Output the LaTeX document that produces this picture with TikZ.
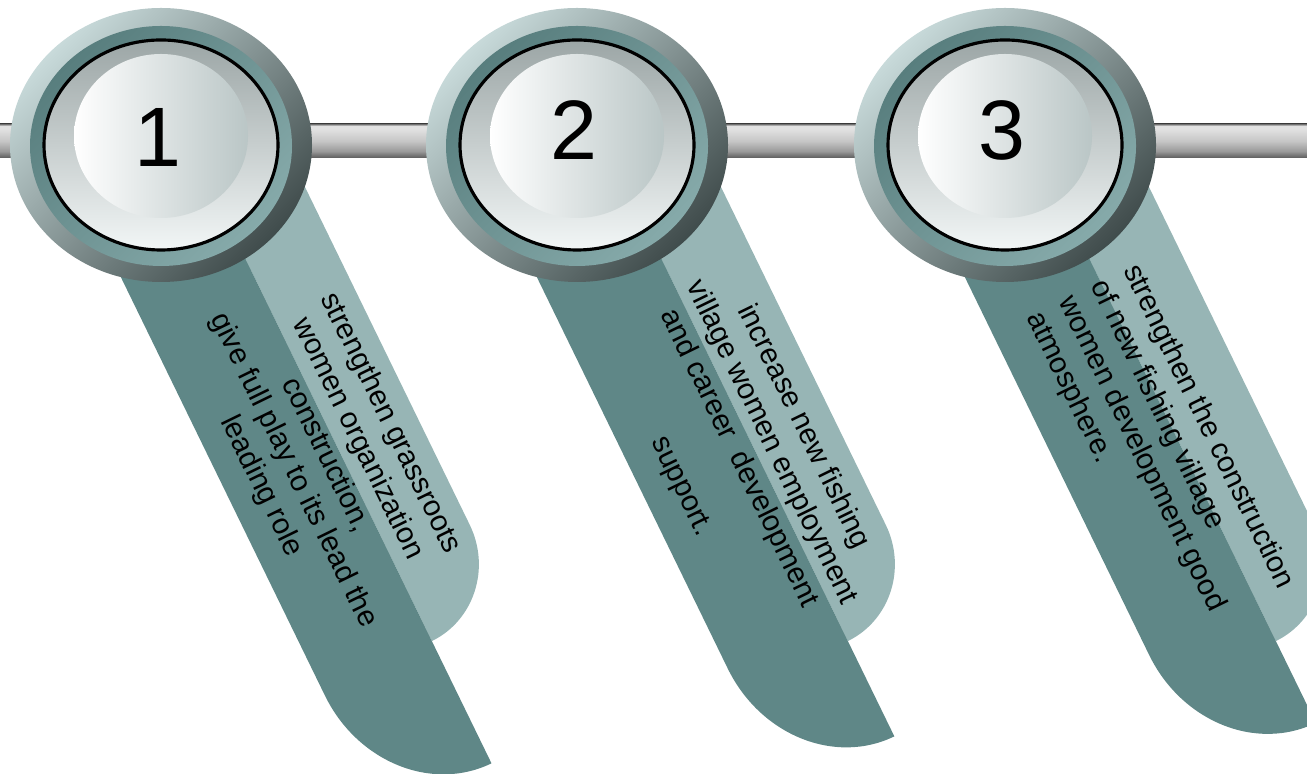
\documentclass[tikz,border=0pt]{standalone}
\usepackage{fontspec}
\setmainfont{Liberation Sans}
\usepackage{xcolor}

\definecolor{tabdark}{HTML}{5F8787}
\definecolor{tablight}{HTML}{97B5B5}
\definecolor{rimlight}{HTML}{C8DADA}
\definecolor{rimdark}{HTML}{404C4C}
\definecolor{banddark}{HTML}{587E7E}
\definecolor{bandlight}{HTML}{86AAAA}
\definecolor{facetop}{HTML}{9CA6A6}
\definecolor{facebot}{HTML}{F2F6F6}
\definecolor{glowright}{HTML}{BAC6C6}
\definecolor{barA}{HTML}{5C5C5C}
\definecolor{barB}{HTML}{9A9A9A}
\definecolor{barC}{HTML}{C6C6C6}
\definecolor{barD}{HTML}{E2E2E2}
\definecolor{barE}{HTML}{707070}

\pgfdeclareverticalshading{barshade}{100bp}{color(0bp)=(barA); color(25bp)=(barA);
  color(35bp)=(barB); color(50bp)=(barC); color(68bp)=(barD); color(72bp)=(barD);
  color(75bp)=(barE); color(100bp)=(barE)}

\begin{document}
\begin{tikzpicture}[x=0.1mm, y=0.1mm,
    tabtext/.style={font=\fontsize{8.4}{10.2}\selectfont, text=black, rotate=-64, inner sep=0pt},
    digit/.style={font=\fontsize{24}{28}\selectfont, text=black}]
  \clip (0,0) rectangle (1307,-774);
  % Bar behind the rings
  \shade[shading=barshade] (0,-124) rectangle (1307,-158);
  % Rings with their hanging tabs
  \foreach \cx/\num/\len/\dy in {161/1/560/8, 577/2/530/15, 1005/3/515/15}{
    \begin{scope}[shift={(\cx,-145)}]
      % Tab, folded: light back half, dark front half
      \begin{scope}[shift={(85,-115)}, rotate=-64]
        \fill[tablight] (-150,0) -- (-150,85) -- (336,85)
          arc[start angle=90, end angle=0, x radius=88, y radius=85] -- cycle;
        \fill[tabdark] (-150,0) -- (\len,0)
          arc[start angle=0, end angle=-90, x radius=134, y radius=120]
          -- (-150,-120) -- cycle;
      \end{scope}
      % Rim and inner band
      \shade[top color=rimlight, bottom color=rimdark, shading angle=45]
        (0,0) ellipse [x radius=151, y radius=137];
      \shade[top color=banddark, bottom color=bandlight, shading angle=45]
        (0,-1) ellipse [x radius=131, y radius=120];
      % Face
      \shade[top color=facetop, bottom color=facebot, draw=black, line width=0.9pt]
        (0,0) ellipse [x radius=117, y radius=105];
      \shade[left color=white, right color=glowright]
        (0,9) ellipse [x radius=87, y radius=82];
      \node[digit] (n\num) at (-3,\dy) {\num};
    \end{scope}
  }
  % Tab texts
  \begin{scope}[shift={(246,-260)}, rotate=-64]
    \node[tabtext, align=center] (t1) at (210,-14)
      {strengthen grassroots\\ women organization\\ construction,\\
       give full play to its lead the\\ leading role};
  \end{scope}
  \begin{scope}[shift={(662,-260)}, rotate=-64]
    \node[tabtext, align=center] (t2) at (212,-14)
      {increase new fishing\\ village women employment\\
       and career\ \ development\\[8pt] support.};
  \end{scope}
  \begin{scope}[shift={(1090,-260)}, rotate=-64]
    \node[tabtext, align=left, anchor=west] (t3) at (23,-21)
      {strengthen the construction\\ of new fishing village\\
       women development good\\ atmosphere.};
  \end{scope}
\end{tikzpicture}
\end{document}
